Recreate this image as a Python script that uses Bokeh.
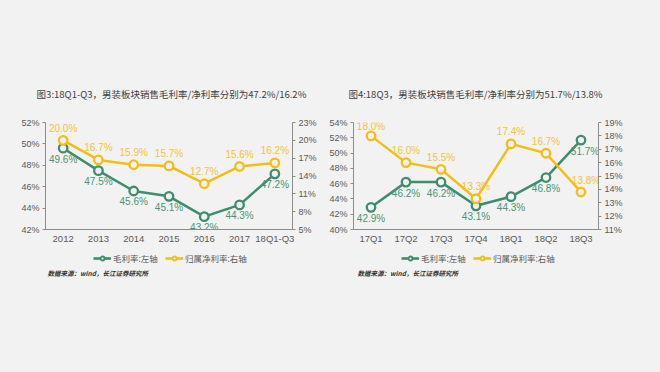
from bokeh.plotting import figure
from bokeh.models import (Range1d, LinearAxis, FixedTicker, PrintfTickFormatter,
                          Legend, LegendItem, Label, ColumnDataSource)
from bokeh.layouts import row, column
from bokeh.core.properties import value
from bokeh.embed import file_html
from bokeh.resources import INLINE

# ---- data ----
cats_a = ["2012", "2013", "2014", "2015", "2016", "2017", "18Q1-Q3"]
gross_a = [49.6, 47.5, 45.6, 45.1, 43.2, 44.3, 47.2]
net_a = [20.0, 16.7, 15.9, 15.7, 12.7, 15.6, 16.2]
left_ticks_a = [42, 44, 46, 48, 50, 52]
right_ticks_a = [5, 8, 11, 14, 17, 20, 23]
title_a = "图3:18Q1-Q3，男装板块销售毛利率/净利率分别为47.2%/16.2%"

cats_b = ["17Q1", "17Q2", "17Q3", "17Q4", "18Q1", "18Q2", "18Q3"]
gross_b = [42.9, 46.2, 46.2, 43.1, 44.3, 46.8, 51.7]
net_b = [18.0, 16.0, 15.5, 13.3, 17.4, 16.7, 13.8]
left_ticks_b = [40, 42, 44, 46, 48, 50, 52, 54]
right_ticks_b = [11, 12, 13, 14, 15, 16, 17, 18, 19]
title_b = "图4:18Q3，男装板块销售毛利率/净利率分别为51.7%/13.8%"

series_names = ["毛利率:左轴", "归属净利率:右轴"]
source_note = "数据来源：wind，长江证券研究所"

BG = "#f2f2f2"
GREEN = "#3d8e6c"
YELLOW = "#f6bd16"
GREEN_TXT = "#4a9575"
YELLOW_TXT = "#f3c334"
AXIS = "#8c8c8c"
TICK_TXT = "#595959"
CJK = "Noto Sans CJK SC"
LAT = "Liberation Sans"

W_A, W_B = 325, 335
H_TOP, H_MID, H_BOT = 100, 146, 126


def blank(width, height):
    p = figure(width=width, height=height, output_backend="svg",
               toolbar_location=None, x_axis_type=None, y_axis_type=None,
               x_range=Range1d(0, 1), y_range=Range1d(0, 1),
               min_border=0, min_border_left=0, min_border_right=0,
               min_border_top=0, min_border_bottom=0)
    p.background_fill_color = BG
    p.border_fill_color = BG
    p.outline_line_color = None
    p.grid.visible = False
    return p


def title_fig(width, text, cx):
    p = blank(width, H_TOP)
    p.add_layout(Label(x=cx, y=7, x_units="screen", y_units="screen",
                       text=text, text_align="center", text_baseline="middle",
                       text_font=CJK, text_font_size="9.5px",
                       text_color="#404040"))
    return p


def legend_fig(width, gross, net, lx, nx):
    p = blank(width, H_BOT)
    # series drawn far outside the (0..1) view; used only for legend swatches
    r1 = p.line(gross, net, color=GREEN, line_width=2.6)
    r2 = p.scatter(gross, net, size=6, fill_color=BG, line_color=GREEN,
                   line_width=1.8)
    r3 = p.line(net, gross, color=YELLOW, line_width=2.6)
    r4 = p.scatter(net, gross, size=6, fill_color=BG, line_color=YELLOW,
                   line_width=1.8)
    legend = Legend(items=[LegendItem(label=series_names[0], renderers=[r1, r2]),
                           LegendItem(label=series_names[1], renderers=[r3, r4])],
                    orientation="horizontal", location=(lx, H_BOT - 18),
                    background_fill_alpha=0, border_line_color=None,
                    label_text_font=CJK, label_text_font_size="8.5px",
                    label_text_color=TICK_TXT, glyph_width=18, glyph_height=10,
                    spacing=7, padding=2, margin=0, label_standoff=2,
                    label_height=10, label_width=10)
    p.add_layout(legend, "center")
    p.add_layout(Label(x=nx, y=H_BOT - 26, x_units="screen", y_units="screen",
                       text=source_note, text_align="left",
                       text_baseline="middle", text_font=CJK,
                       text_font_size="6.5px", text_font_style="bold italic",
                       text_color="#303030"))
    return p


def chart(cats, gross, net, lticks, rticks, width, bl, br, bt, bb,
          g_fix=None, n_fix=None):
    p = figure(x_range=cats, y_range=Range1d(lticks[0], lticks[-1]),
               width=width, height=H_MID, output_backend="svg",
               toolbar_location=None, min_border_left=bl, min_border_right=br,
               min_border_top=bt, min_border_bottom=bb)
    p.background_fill_color = BG
    p.border_fill_color = BG
    p.outline_line_color = None
    p.grid.visible = False
    p.extra_y_ranges = {"r": Range1d(rticks[0], rticks[-1])}

    ya = p.yaxis[0]
    ya.ticker = FixedTicker(ticks=lticks)
    ya.formatter = PrintfTickFormatter(format="%d%%")
    ra = LinearAxis(y_range_name="r", ticker=FixedTicker(ticks=rticks),
                    formatter=PrintfTickFormatter(format="%d%%"))
    p.add_layout(ra, "right")
    for ax in [ya, ra]:
        ax.axis_line_color = AXIS
        ax.major_tick_line_color = AXIS
        ax.major_tick_out = 3
        ax.major_tick_in = 0
        ax.minor_tick_line_color = None
        ax.major_label_text_font = LAT
        ax.major_label_text_font_size = "9px"
        ax.major_label_text_color = TICK_TXT
        ax.major_label_standoff = 3
    xa = p.xaxis[0]
    xa.axis_line_color = AXIS
    xa.major_tick_line_color = None
    xa.major_tick_out = 0
    xa.major_tick_in = 0
    xa.major_label_text_font = LAT
    xa.major_label_text_font_size = "9.5px"
    xa.major_label_text_color = TICK_TXT
    xa.major_label_standoff = 3

    src = ColumnDataSource(dict(x=cats, g=gross, n=net,
                                gl=["%.1f%%" % v for v in gross],
                                nl=["%.1f%%" % v for v in net]))
    p.line("x", "g", source=src, color=GREEN, line_width=2.5)
    p.scatter("x", "g", source=src, size=8.5, fill_color=BG,
              line_color=GREEN, line_width=2.3)
    p.line("x", "n", source=src, color=YELLOW, line_width=2.5, y_range_name="r")
    p.scatter("x", "n", source=src, size=8.5, fill_color=BG,
              line_color=YELLOW, line_width=2.3, y_range_name="r")

    n = len(cats)
    gxo, gyo, nxo, nyo = [0] * n, [11] * n, [0] * n, [-12] * n
    for i, (dx, dy) in (g_fix or {}).items():
        gxo[i], gyo[i] = dx, dy
    for i, (dx, dy) in (n_fix or {}).items():
        nxo[i], nyo[i] = dx, dy
    src.data.update(gxo=gxo, gyo=gyo, nxo=nxo, nyo=nyo)
    p.text("x", "g", text="gl", source=src, x_offset="gxo", y_offset="gyo",
           text_align="center", text_baseline="middle",
           text_font=value(LAT), text_font_size="10px", text_color=GREEN_TXT)
    p.text("x", "n", text="nl", source=src, x_offset="nxo", y_offset="nyo",
           y_range_name="r", text_align="center", text_baseline="middle",
           text_font=value(LAT), text_font_size="10px", text_color=YELLOW_TXT)
    return p


ta = title_fig(W_A, title_a, 171)
tb = title_fig(W_B, title_b, 150)
pa = chart(cats_a, gross_a, net_a, left_ticks_a, right_ticks_a,
           W_A, 45, 33, 20, 15)
pb = chart(cats_b, gross_b, net_b, left_ticks_b, right_ticks_b,
           W_B, 28, 62, 22, 14, g_fix={6: (4, 11)},
           n_fix={0: (0, -9), 6: (5, -12)})
la = legend_fig(W_A, gross_a, net_a, 93, 47)
lb = legend_fig(W_B, gross_b, net_b, 76, 32)

layout = column(row(ta, tb, spacing=0), row(pa, pb, spacing=0),
                row(la, lb, spacing=0), spacing=0)
layout.styles = {"background-color": BG}
open("out.html", "w").write(file_html(layout, INLINE))
